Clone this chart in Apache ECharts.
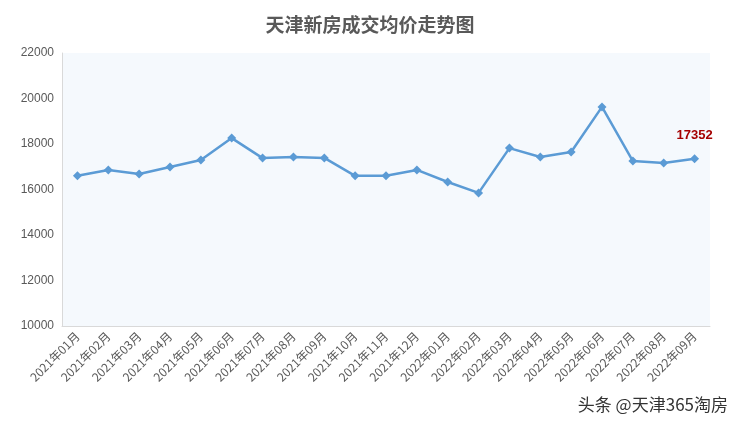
<!DOCTYPE html><html><head><meta charset="utf-8"><script src="https://cdn.jsdelivr.net/npm/echarts@6/dist/echarts.min.js"></script></head><body style="margin:0"><div id="c" style="width:740px;height:423px"></div><script>
const categories=['2021年01月','2021年02月','2021年03月','2021年04月','2021年05月','2021年06月','2021年07月','2021年08月','2021年09月','2021年10月','2021年11月','2021年12月','2022年01月','2022年02月','2022年03月','2022年04月','2022年05月','2022年06月','2022年07月','2022年08月','2022年09月'];
const prices=[16600,16860,16680,16990,17300,18260,17380,17430,17390,16600,16600,16860,16330,15850,17820,17430,17650,19630,17250,17160,17352];
const c=echarts.init(document.getElementById('c'));
c.setOption({
title:{text:'天津新房成交均价走势图',left:'center',top:10,textStyle:{fontSize:19,fontWeight:'bold',color:'#595959',fontFamily:'Noto Sans CJK SC'}},
grid:{left:62,right:30,top:53,bottom:97,backgroundColor:'#f5f9fd',show:true,borderWidth:0},
xAxis:{type:'category',data:categories,boundaryGap:true,axisLine:{lineStyle:{color:'#d9d9d9'}},axisTick:{show:false},axisLabel:{rotate:45,color:'#595959',fontSize:12,interval:0,fontFamily:'Noto Sans CJK SC'}},
yAxis:{type:'value',min:10000,max:22000,interval:2000,splitLine:{show:false},axisLine:{show:true,lineStyle:{color:'#d9d9d9'}},axisLabel:{color:'#595959',fontSize:12,formatter:v=>String(v)}},
series:[{type:'line',data:prices.map((v,i)=>i===prices.length-1?{value:v,label:{show:true,position:'top',distance:12,color:'#a50000',fontWeight:'bold',fontSize:13,formatter:'{c}'}}:v),symbol:'diamond',symbolSize:9,lineStyle:{color:'#5b9bd5',width:2.5},itemStyle:{color:'#5b9bd5'}}],
graphic:[{type:'text',right:12,bottom:10,style:{text:'头条 @天津365淘房',fontSize:17,fill:'#333',fontFamily:'Noto Sans CJK SC'}}]
});
</script></body></html>
